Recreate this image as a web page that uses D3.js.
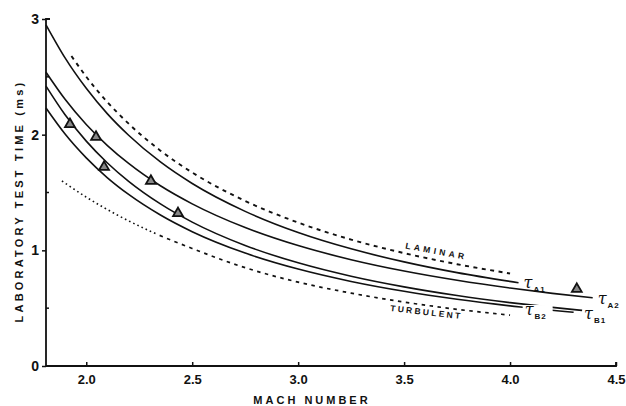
<!DOCTYPE html>
<html>
<head>
<meta charset="utf-8">
<script src="https://cdn.jsdelivr.net/npm/d3@7/dist/d3.min.js"></script>
<style>
  html, body { margin: 0; padding: 0; background: #fff; }
  svg { display: block; }
</style>
</head>
<body>
<svg id="chart" width="626" height="406"></svg>
<script>
// ---- data (Mach number, laboratory test time in ms) ----
const machTicks = [2.0, 2.5, 3.0, 3.5, 4.0, 4.5];
const machTickLabels = ["2.0", "2.5", "3.0", "3.5", "4.0", "4.5"];
const timeTicks = [0, 1, 2, 3];
const timeMinorTicks = [0.5, 1.5, 2.5];

const tauA1 = [[1.81, 2.95], [1.9, 2.664], [2.0, 2.401], [2.1, 2.18], [2.2, 1.995], [2.35, 1.764], [2.5, 1.578], [2.75, 1.337], [3.0, 1.154], [3.25, 1.013], [3.5, 0.90], [3.75, 0.807], [4.04, 0.72]];
const tauA2 = [[1.81, 2.54], [1.9, 2.306], [2.0, 2.088], [2.1, 1.906], [2.2, 1.751], [2.35, 1.558], [2.5, 1.402], [2.75, 1.197], [3.0, 1.041], [3.25, 0.919], [3.5, 0.821], [3.75, 0.741], [4.0, 0.674], [4.2, 0.628], [4.39, 0.59]];
const tauB1 = [[1.81, 2.42], [1.9, 2.172], [2.0, 1.944], [2.1, 1.755], [2.2, 1.596], [2.35, 1.401], [2.5, 1.244], [2.75, 1.042], [3.0, 0.892], [3.25, 0.776], [3.5, 0.684], [3.75, 0.609], [4.0, 0.548], [4.2, 0.5065], [4.34, 0.481]];
const tauB2 = [[1.81, 2.23], [1.9, 2.005], [2.0, 1.799], [2.1, 1.627], [2.2, 1.483], [2.35, 1.305], [2.5, 1.161], [2.75, 0.976], [3.0, 0.838], [3.25, 0.731], [3.5, 0.646], [3.75, 0.577], [4.05, 0.51], [4.3, 0.464]];
const laminar = [[1.93, 2.68], [2.0, 2.501], [2.1, 2.281], [2.2, 2.095], [2.35, 1.862], [2.5, 1.673], [2.75, 1.427], [3.0, 1.24], [3.25, 1.093], [3.5, 0.976], [3.75, 0.88], [4.0, 0.80]];
const turbulent = [[1.885, 1.60], [2.0, 1.46], [2.15, 1.302], [2.3, 1.167], [2.5, 1.016], [2.75, 0.85], [3.0, 0.725], [3.25, 0.63], [3.5, 0.553], [3.75, 0.49], [4.0, 0.44]];
const experiments = [[1.923, 2.09], [2.046, 1.98], [2.084, 1.72], [2.305, 1.60], [2.433, 1.32], [4.315, 0.665]];

const curveLabels = [
  { tau: "τ", sub: "A1", m: 4.04, t: 0.72 },
  { tau: "τ", sub: "A2", m: 4.39, t: 0.59 },
  { tau: "τ", sub: "B2", m: 4.05, t: 0.51 },
  { tau: "τ", sub: "B1", m: 4.34, t: 0.481 }
];

// ---- drawing ----
const svg = d3.select("#chart");
const x = d3.scaleLinear().domain([1.81, 4.5]).range([46, 616]);
const y = d3.scaleLinear().domain([0, 3]).range([366, 19]);
const ink = "#111";
const sans = "Liberation Sans, Arial, sans-serif";

const line = d3.line().x(d => x(d[0])).y(d => y(d[1])).curve(d3.curveMonotoneX);

// axes
const xAxis = d3.axisBottom(x).tickValues(machTicks).tickSize(-4).tickFormat((d, i) => machTickLabels[i]).tickPadding(9);
const gx = svg.append("g").attr("transform", `translate(0,${y(0)})`).call(xAxis);
gx.select(".domain").attr("d", `M${x(1.81)},0H${x(4.5)}V-4`).attr("stroke", ink).attr("stroke-width", 1.8).attr("fill", "none");
gx.selectAll(".tick line").attr("stroke", ink).attr("stroke-width", 1.5);
gx.selectAll(".tick text").attr("fill", ink).attr("font-family", sans)
  .attr("font-weight", "bold").attr("font-size", 13);

const yAxis = d3.axisLeft(y).tickValues(timeTicks).tickSize(4).tickFormat(d3.format("d")).tickPadding(3);
const gy = svg.append("g").attr("transform", `translate(${x(1.81)},0)`).call(yAxis);
gy.select(".domain").attr("d", `M0,${y(0)}V${y(3)}H4`).attr("stroke", ink).attr("stroke-width", 1.8).attr("fill", "none");
gy.selectAll(".tick line").attr("stroke", ink).attr("stroke-width", 1.5);
gy.selectAll(".tick text").attr("fill", ink).attr("font-family", sans)
  .attr("font-weight", "bold").attr("font-size", 14);
gy.selectAll(".minor").data(timeMinorTicks).enter().append("line")
  .attr("x1", 0).attr("x2", 3).attr("y1", d => y(d)).attr("y2", d => y(d))
  .attr("stroke", ink).attr("stroke-width", 1.5);

// axis titles
svg.append("text").attr("x", 312).attr("y", 404).attr("text-anchor", "middle")
  .attr("font-family", sans).attr("font-weight", "bold")
  .attr("font-size", 11).attr("letter-spacing", 3).attr("fill", ink).text("MACH NUMBER");
svg.append("text").attr("transform", "translate(23,201) rotate(-90)").attr("text-anchor", "middle")
  .attr("font-family", sans).attr("font-weight", "bold")
  .attr("font-size", 11).attr("letter-spacing", 3.2).attr("fill", ink).text("LABORATORY TEST TIME (ms)");

// clip paths for turbulent line style change
const defs = svg.append("defs");
defs.append("clipPath").attr("id", "leftPart").append("rect")
  .attr("x", 0).attr("y", 0).attr("width", x(2.32)).attr("height", 406);
defs.append("clipPath").attr("id", "rightPart").append("rect")
  .attr("x", x(2.32)).attr("y", 0).attr("width", 626 - x(2.32)).attr("height", 406);

// solid curves
[tauA1, tauA2, tauB1, tauB2].forEach(s => {
  svg.append("path").datum(s).attr("d", line).attr("fill", "none")
    .attr("stroke", ink).attr("stroke-width", 1.6);
});

// laminar dashed
svg.append("path").datum(laminar).attr("d", line).attr("fill", "none")
  .attr("stroke", ink).attr("stroke-width", 1.9).attr("stroke-dasharray", "4,4.5");

// turbulent dotted then dashed
svg.append("path").datum(turbulent).attr("d", line).attr("fill", "none").attr("clip-path", "url(#leftPart)")
  .attr("stroke", ink).attr("stroke-width", 1.6).attr("stroke-dasharray", "1.6,3");
svg.append("path").datum(turbulent).attr("d", line).attr("fill", "none").attr("clip-path", "url(#rightPart)")
  .attr("stroke", ink).attr("stroke-width", 1.7).attr("stroke-dasharray", "3.5,4.5");

// experiment triangles
svg.selectAll(".exp").data(experiments).enter().append("path")
  .attr("transform", d => `translate(${x(d[0])},${y(d[1])})`)
  .attr("d", d3.symbol().type(d3.symbolTriangle).size(42))
  .attr("fill", "#888").attr("stroke", ink).attr("stroke-width", 1.8);

// region labels
svg.append("text").attr("transform", "translate(405,248.5) rotate(10.5)")
  .attr("font-family", sans).attr("font-weight", "bold")
  .attr("font-size", 8.5).attr("letter-spacing", 3.4).attr("fill", ink).text("LAMINAR");
svg.append("text").attr("transform", "translate(390,311) rotate(6.5)")
  .attr("font-family", sans).attr("font-weight", "bold")
  .attr("font-size", 8.5).attr("letter-spacing", 2.3).attr("fill", ink).text("TURBULENT");

// curve labels
const lblOffsets = { A1: [5, 5], A2: [5, 6], B2: [4, 8], B1: [2, 9] };
curveLabels.forEach(l => {
  const [dx, dy] = lblOffsets[l.sub];
  const px = x(l.m) + dx, py = y(l.t) + dy;
  if (l.sub === "B2") {
    svg.append("rect").attr("x", px - 2).attr("y", py - 10).attr("width", 30).attr("height", 14).attr("fill", "#fff");
  }
  const t = svg.append("text").attr("x", px).attr("y", py).attr("fill", ink);
  t.append("tspan").attr("font-family", "DejaVu Serif, serif").attr("font-style", "italic")
    .attr("font-size", 16).text(l.tau);
  t.append("tspan").attr("dy", 4).attr("dx", 1).attr("font-family", sans)
    .attr("font-weight", "bold").attr("font-size", 8).attr("letter-spacing", 1).text(l.sub);
});
</script>
</body>
</html>
